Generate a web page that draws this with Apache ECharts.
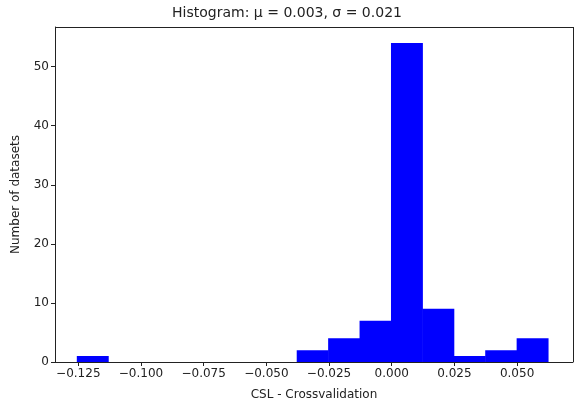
<!DOCTYPE html>
<html>
<head>
<meta charset="utf-8">
<script src="https://cdn.jsdelivr.net/npm/echarts@6/dist/echarts.min.js"></script>
<style>html,body{margin:0;padding:0;background:#fff}#chart{width:574px;height:408px}</style>
</head>
<body>
<div id="chart"></div>
<script>
// histogram bins (left edges) and counts
const binStart = -0.1256;
const binWidth = 0.01253;
const counts = [1, 0, 0, 0, 0, 0, 0, 2, 4, 7, 54, 9, 1, 2, 4];
const xTicks = [-0.125, -0.100, -0.075, -0.050, -0.025, 0.000, 0.025, 0.050];
const yTicks = [0, 10, 20, 30, 40, 50];

const data = counts.map((c, i) => [binStart + i * binWidth, binStart + (i + 1) * binWidth, c]);

const chart = echarts.init(document.getElementById('chart'));
const font = 'DejaVu Sans';

chart.setOption({
  animation: false,
  title: {
    text: 'Histogram: μ = 0.003, σ = 0.021',
    left: 'center',
    top: 1,
    textStyle: { fontFamily: font, fontSize: 14, fontWeight: 'normal', color: '#222' }
  },
  grid: { left: 55, right: 1, top: 27, bottom: 46 },
  xAxis: {
    type: 'value',
    min: -0.1343,
    max: 0.0723,
    name: 'CSL - Crossvalidation',
    nameLocation: 'middle',
    nameGap: 27,
    nameTextStyle: { fontFamily: font, fontSize: 12, color: '#222' },
    splitLine: { show: false },
    axisLine: { onZero: false, lineStyle: { color: '#222' } },
    axisTick: { customValues: xTicks, length: 4, lineStyle: { color: '#222' } },
    axisLabel: {
      customValues: xTicks,
      fontFamily: font, fontSize: 12, color: '#222', margin: 6,
      formatter: v => (v < 0 ? '\u2212' : '') + Math.abs(v).toFixed(3)
    }
  },
  yAxis: {
    type: 'value',
    min: 0,
    max: 56.7,
    name: 'Number of datasets',
    nameLocation: 'middle',
    nameGap: 33,
    nameTextStyle: { fontFamily: font, fontSize: 12, color: '#222' },
    splitLine: { show: false },
    axisLine: { show: true, onZero: false, lineStyle: { color: '#222' } },
    axisTick: { show: true, customValues: yTicks, length: 4, lineStyle: { color: '#222' } },
    axisLabel: { customValues: yTicks, fontFamily: font, fontSize: 12, color: '#222', margin: 6 }
  },
  series: [
    {
      type: 'custom',
      data: data,
      encode: { x: [0, 1], y: 2 },
      renderItem(params, api) {
        const p0 = api.coord([api.value(0), 0]);
        const p1 = api.coord([api.value(1), api.value(2)]);
        return {
          type: 'rect',
          shape: { x: p0[0], y: p1[1], width: p1[0] - p0[0] + 0.5, height: p0[1] - p1[1] },
          style: { fill: '#0000ff' }
        };
      }
    },
    {
      // right and top frame
      type: 'line', data: [], silent: true,
      markLine: {
        symbol: 'none', silent: true, label: { show: false },
        lineStyle: { color: '#222', type: 'solid', width: 1 },
        data: [[{ coord: [0.0723, 0] }, { coord: [0.0723, 56.7] }],
               [{ coord: [-0.1343, 56.7] }, { coord: [0.0723, 56.7] }]]
      }
    }
  ]
});
</script>
</body>
</html>
